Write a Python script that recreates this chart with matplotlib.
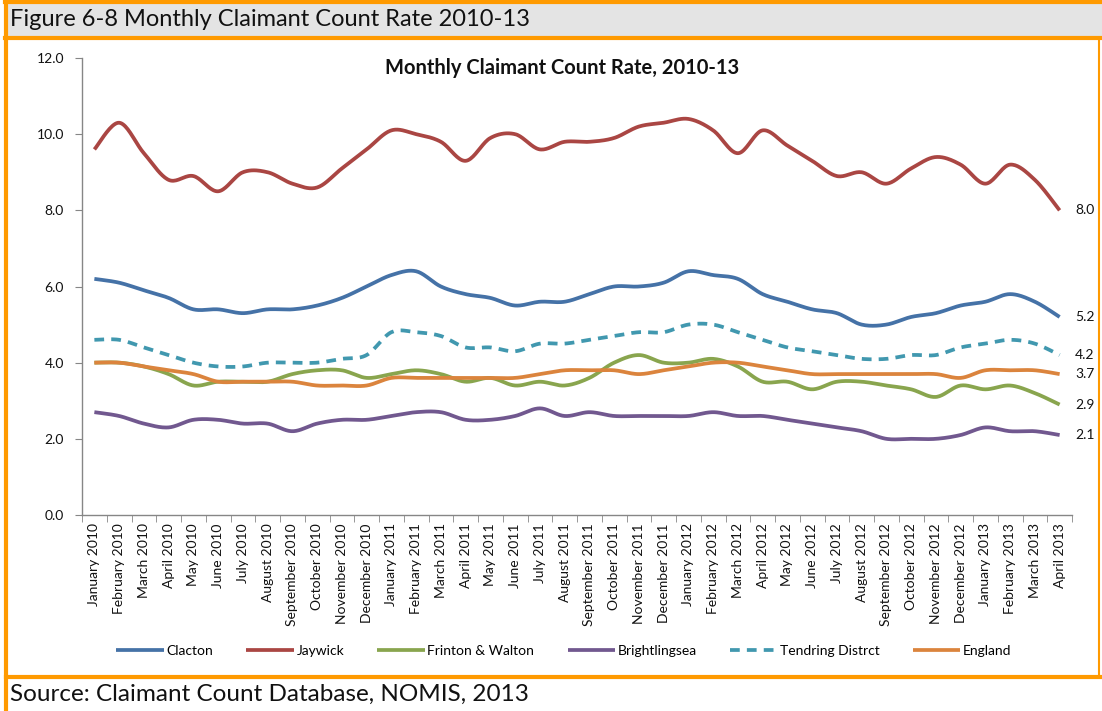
import numpy as np
import matplotlib
matplotlib.use("Agg")
import matplotlib.pyplot as plt
from matplotlib.patches import Rectangle
from matplotlib.lines import Line2D

months = ["January 2010", "February 2010", "March 2010", "April 2010", "May 2010", "June 2010",
          "July 2010", "August 2010", "September 2010", "October 2010", "November 2010", "December 2010",
          "January 2011", "February 2011", "March 2011", "April 2011", "May 2011", "June 2011",
          "July 2011", "August 2011", "September 2011", "October 2011", "November 2011", "December 2011",
          "January 2012", "February 2012", "March 2012", "April 2012", "May 2012", "June 2012",
          "July 2012", "August 2012", "September 2012", "October 2012", "November 2012", "December 2012",
          "January 2013", "February 2013", "March 2013", "April 2013"]

clacton = [6.2, 6.1, 5.9, 5.7, 5.4, 5.4, 5.3, 5.4, 5.4, 5.5, 5.7, 6.0,
           6.3, 6.4, 6.0, 5.8, 5.7, 5.5, 5.6, 5.6, 5.8, 6.0, 6.0, 6.1,
           6.4, 6.3, 6.2, 5.8, 5.6, 5.4, 5.3, 5.0, 5.0, 5.2, 5.3, 5.5,
           5.6, 5.8, 5.6, 5.2]
jaywick = [9.6, 10.3, 9.5, 8.8, 8.9, 8.5, 9.0, 9.0, 8.7, 8.6, 9.1, 9.6,
           10.1, 10.0, 9.8, 9.3, 9.9, 10.0, 9.6, 9.8, 9.8, 9.9, 10.2, 10.3,
           10.4, 10.1, 9.5, 10.1, 9.7, 9.3, 8.9, 9.0, 8.7, 9.1, 9.4, 9.2,
           8.7, 9.2, 8.8, 8.0]
frinton = [4.0, 4.0, 3.9, 3.7, 3.4, 3.5, 3.5, 3.5, 3.7, 3.8, 3.8, 3.6,
           3.7, 3.8, 3.7, 3.5, 3.6, 3.4, 3.5, 3.4, 3.6, 4.0, 4.2, 4.0,
           4.0, 4.1, 3.9, 3.5, 3.5, 3.3, 3.5, 3.5, 3.4, 3.3, 3.1, 3.4,
           3.3, 3.4, 3.2, 2.9]
brightlingsea = [2.7, 2.6, 2.4, 2.3, 2.5, 2.5, 2.4, 2.4, 2.2, 2.4, 2.5, 2.5,
                 2.6, 2.7, 2.7, 2.5, 2.5, 2.6, 2.8, 2.6, 2.7, 2.6, 2.6, 2.6,
                 2.6, 2.7, 2.6, 2.6, 2.5, 2.4, 2.3, 2.2, 2.0, 2.0, 2.0, 2.1,
                 2.3, 2.2, 2.2, 2.1]
tendring = [4.6, 4.6, 4.4, 4.2, 4.0, 3.9, 3.9, 4.0, 4.0, 4.0, 4.1, 4.2,
            4.8, 4.8, 4.7, 4.4, 4.4, 4.3, 4.5, 4.5, 4.6, 4.7, 4.8, 4.8,
            5.0, 5.0, 4.8, 4.6, 4.4, 4.3, 4.2, 4.1, 4.1, 4.2, 4.2, 4.4,
            4.5, 4.6, 4.5, 4.2]
england = [4.0, 4.0, 3.9, 3.8, 3.7, 3.5, 3.5, 3.5, 3.5, 3.4, 3.4, 3.4,
           3.6, 3.6, 3.6, 3.6, 3.6, 3.6, 3.7, 3.8, 3.8, 3.8, 3.7, 3.8,
           3.9, 4.0, 4.0, 3.9, 3.8, 3.7, 3.7, 3.7, 3.7, 3.7, 3.7, 3.6,
           3.8, 3.8, 3.8, 3.7]

series_names = ["Clacton", "Jaywick", "Frinton & Walton", "Brightlingsea", "Tendring Distrct", "England"]
series_values = [clacton, jaywick, frinton, brightlingsea, tendring, england]
colors = ["#4572A7", "#AA4643", "#89A54E", "#71588F", "#4198AF", "#DB843D"]
styles = ["-", "-", "-", "-", "--", "-"]

FONT = ["Lato", "DejaVu Sans"]
plt.rcParams["font.family"] = FONT

W, H = 1102, 711
fig = plt.figure(figsize=(W / 100, H / 100), dpi=100)


def fx(px):
    return px / W


def fy(py):
    return 1 - py / H


ORANGE = "#FF9A00"
# title bar
fig.patches.append(Rectangle((fx(6), fy(38)), fx(1102 - 6), 36 / H, transform=fig.transFigure,
                             facecolor="#E4E4E4", edgecolor="none", zorder=0))
for y0 in (2, 38):
    fig.add_artist(Line2D([fx(5), 1], [fy(y0), fy(y0)], color=ORANGE, lw=3, transform=fig.transFigure))
fig.add_artist(Line2D([fx(6), 1], [fy(677), fy(677)], color=ORANGE, lw=3, transform=fig.transFigure))
fig.add_artist(Line2D([fx(6), fx(6)], [0, fy(1)], color=ORANGE, lw=3, transform=fig.transFigure))
fig.add_artist(Line2D([fx(1099), fx(1099)], [fy(677), fy(38)], color=ORANGE, lw=1.5, transform=fig.transFigure))

fig.text(fx(10), fy(20), "Figure 6-8 Monthly Claimant Count Rate 2010-13", fontsize=17,
         va="center", ha="left", color="#111111")
fig.text(fx(10), fy(694), "Source: Claimant Count Database, NOMIS, 2013", fontsize=17.5,
         va="center", ha="left", color="#111111")

ax = fig.add_axes([fx(82), fy(515), fx(1072 - 82), (515 - 58) / H])


def smooth(y, n=20):
    # Catmull-Rom style smoothing of the drawn path (like Excel "smoothed line")
    y = np.asarray(y, float)
    x = np.arange(len(y), dtype=float)
    P = np.column_stack([x, y])
    Pp = np.vstack([P[0], P, P[-1]])
    out = []
    t = np.linspace(0, 1, n, endpoint=False)[:, None]
    for i in range(len(y) - 1):
        p0, p1, p2, p3 = Pp[i], Pp[i + 1], Pp[i + 2], Pp[i + 3]
        c1 = p1 + (p2 - p0) / 6
        c2 = p2 - (p3 - p1) / 6
        seg = ((1 - t) ** 3) * p1 + 3 * ((1 - t) ** 2) * t * c1 + 3 * (1 - t) * t ** 2 * c2 + t ** 3 * p2
        out.append(seg)
    out.append(P[-1][None, :])
    out = np.vstack(out)
    return out[:, 0], out[:, 1]


handles = []
for name, vals, c, ls in zip(series_names, series_values, colors, styles):
    xs, ys = smooth(vals)
    kw = dict(color=c, lw=2.7, solid_capstyle="butt", label=name)
    if ls == "--":
        (ln,) = ax.plot(xs, ys, linestyle=(0, (2.6, 1.9)), **kw)
    else:
        (ln,) = ax.plot(xs, ys, linestyle="-", **kw)
    handles.append(ln)
    ax.annotate(f"{vals[-1]:.1f}", xy=(len(vals) - 1, vals[-1]), xytext=(11, 0),
                textcoords="offset points", va="center", ha="left", fontsize=10, color="#111111",
                annotation_clip=False)

ax.set_xlim(-0.5, len(months) - 0.5)
ax.set_ylim(0, 12)
ax.set_yticks(np.arange(0, 12.1, 2))
ax.set_yticklabels([f"{v:.1f}" for v in np.arange(0, 12.1, 2)], fontsize=10, color="#111111")
ax.set_xticks(np.arange(len(months)))
ax.set_xticklabels(months, rotation=90, fontsize=10, color="#111111")
ax.set_xticks(np.arange(-0.5, len(months), 1), minor=True)
ax.tick_params(axis="x", which="major", length=0, pad=6)
ax.tick_params(axis="x", which="minor", length=5, color="#868686", direction="out")
ax.tick_params(axis="y", which="major", length=5, color="#868686", direction="out", pad=8)
for s in ("top", "right"):
    ax.spines[s].set_visible(False)
for s in ("left", "bottom"):
    ax.spines[s].set_color("#868686")
    ax.spines[s].set_linewidth(1)

fig.text(fx(562), fy(68), "Monthly Claimant Count Rate, 2010-13", fontsize=14.5, fontweight="bold",
         ha="center", va="center", color="#111111")

fig.legend(handles=handles, labels=series_names, loc="center", bbox_to_anchor=(fx(564), fy(651)),
           ncol=6, frameon=False, fontsize=10, handlelength=3.4, handletextpad=0.2,
           columnspacing=2.4)

fig.savefig("out.png", dpi=100)
